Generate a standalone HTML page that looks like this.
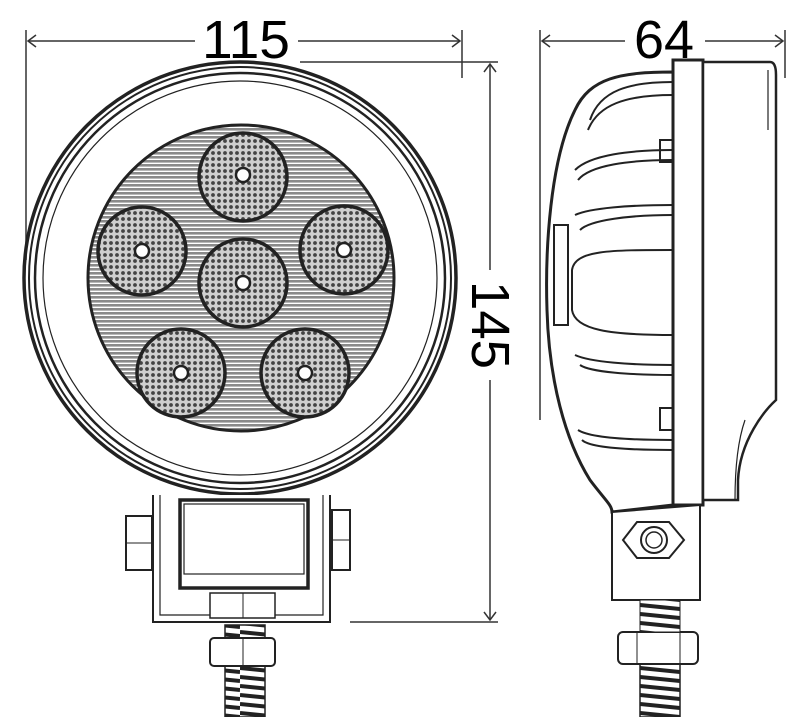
<!DOCTYPE html>
<html><head><meta charset="utf-8"><style>html,body{margin:0;padding:0;background:#fff}svg{display:block}</style></head>
<body>
<svg width="800" height="717" viewBox="0 0 800 717" xmlns="http://www.w3.org/2000/svg" font-family="Liberation Sans, sans-serif">
<defs>
<pattern id="stripes" width="6" height="4" patternUnits="userSpaceOnUse">
<rect width="6" height="4" fill="#fff"/><rect y="0" width="6" height="2.6" fill="#8a8a8a"/>
</pattern>
<pattern id="dots" width="6" height="6" patternUnits="userSpaceOnUse">
<rect width="6" height="6" fill="#cfcfcf"/><circle cx="3" cy="3" r="1.9" fill="#444"/>
</pattern>
<pattern id="thread" width="40" height="9" patternUnits="userSpaceOnUse">
<rect width="40" height="9" fill="#fff"/><path d="M0 2 L40 6" stroke="#222" stroke-width="4"/>
</pattern>
</defs>
<g fill="none" stroke="#333" stroke-width="1.5">
<line x1="26" y1="30" x2="26" y2="260"/><line x1="462" y1="30" x2="462" y2="78"/>
<line x1="28" y1="41" x2="195" y2="41"/><line x1="298" y1="41" x2="460" y2="41"/>
<path d="M36 35 L28 41 L36 47 M452 35 L460 41 L452 47"/>
<line x1="540" y1="30" x2="540" y2="420"/><line x1="785" y1="30" x2="785" y2="78"/>
<line x1="542" y1="41" x2="625" y2="41"/><line x1="705" y1="41" x2="783" y2="41"/>
<path d="M550 35 L542 41 L550 47 M775 35 L783 41 L775 47"/>
<line x1="300" y1="62" x2="498" y2="62"/><line x1="350" y1="622" x2="498" y2="622"/>
<line x1="490" y1="64" x2="490" y2="270"/><line x1="490" y1="380" x2="490" y2="620"/>
<path d="M484 72 L490 64 L496 72 M484 612 L490 620 L496 612"/>
</g>
<g font-size="54" fill="#000" text-anchor="middle">
<text x="246" y="58" textLength="88" lengthAdjust="spacingAndGlyphs">115</text>
<text x="664" y="58" textLength="60" lengthAdjust="spacingAndGlyphs">64</text>
<text transform="translate(472,325) rotate(90)" textLength="88" lengthAdjust="spacingAndGlyphs">145</text>
</g>
<g stroke="#222" fill="none">
<circle cx="240" cy="278" r="216" stroke-width="3.5"/>
<circle cx="240" cy="278" r="211" stroke-width="2"/>
<circle cx="240" cy="278" r="205" stroke-width="2.5"/>
<circle cx="240" cy="278" r="197" stroke-width="1.2"/>
<circle cx="241" cy="278" r="153" stroke-width="3" fill="url(#stripes)"/>
<g fill="url(#dots)" stroke-width="3.5">
<circle cx="243" cy="177" r="44"/><circle cx="142" cy="251" r="44"/><circle cx="344" cy="250" r="44"/>
<circle cx="243" cy="283" r="44"/><circle cx="181" cy="373" r="44"/><circle cx="305" cy="373" r="44"/>
</g>
<g fill="#fff" stroke-width="2.5">
<circle cx="243" cy="175" r="7"/><circle cx="142" cy="251" r="7"/><circle cx="344" cy="250" r="7"/>
<circle cx="243" cy="283" r="7"/><circle cx="181" cy="373" r="7"/><circle cx="305" cy="373" r="7"/>
</g>
<path d="M153 495 V622 H330 V495" stroke-width="2" fill="#fff"/>
<path d="M160 495 V615 H323 V495" stroke-width="1.2"/>
<rect x="180" y="500" width="128" height="88" stroke-width="3.5" fill="#fff"/>
<rect x="184" y="504" width="120" height="70" stroke-width="1.2"/>
<rect x="126" y="516" width="26" height="54" stroke-width="2" fill="#fff"/><line x1="126" y1="543" x2="152" y2="543"/>
<rect x="332" y="510" width="18" height="60" stroke-width="2" fill="#fff"/><line x1="332" y1="540" x2="350" y2="540"/>
<rect x="210" y="593" width="65" height="25" stroke-width="1.5" fill="#fff"/><line x1="243" y1="593" x2="243" y2="618"/>
<rect x="225" y="625" width="40" height="92" stroke-width="1.5" fill="url(#thread)"/>
<rect x="210" y="638" width="65" height="28" rx="4" stroke-width="2" fill="#fff"/><line x1="243" y1="638" x2="243" y2="666"/>
</g>
<g stroke="#222" fill="#fff">
<path d="M673 72 C620 72 590 78 575 110 C550 160 545 250 547 310 C549 380 565 440 590 480 C605 500 612 505 612 512 L673 505 Z" stroke-width="3"/>
<g fill="none" stroke-width="2">
<path d="M673 82 C630 82 600 90 590 120"/><path d="M673 95 C625 95 598 105 588 130"/>
<path d="M673 150 C630 150 590 155 575 170"/><path d="M673 160 C630 160 590 165 578 180"/>
<path d="M673 205 C630 205 590 208 575 215"/><path d="M673 215 C630 215 590 220 580 230"/>
<path d="M673 250 C610 250 575 250 572 270 V310 C575 330 610 335 673 335"/>
<path d="M673 365 C630 365 590 362 575 355"/><path d="M673 375 C630 375 590 372 580 365"/>
<path d="M673 440 C630 440 590 438 578 430"/><path d="M673 450 C630 450 590 448 582 440"/>
<rect x="660" y="140" width="13" height="22"/><rect x="660" y="408" width="13" height="22"/>
<rect x="554" y="225" width="14" height="100"/>
</g>
<rect x="673" y="60" width="30" height="445" stroke-width="3"/>
<path d="M703 62 H770 Q776 62 776 75 V400 C765 410 740 440 738 480 V500 H703 Z" stroke-width="2.5"/>
<path d="M768 70 V130 M745 420 C738 440 735 470 735 500" fill="none" stroke-width="1.2"/>
<path d="M612 512 L700 505 V600 H612 Z" stroke-width="2"/>
<path d="M623 540 L637 522 H669 L684 540 L669 558 H637 Z" stroke-width="2"/>
<circle cx="654" cy="540" r="13" stroke-width="2"/><circle cx="654" cy="540" r="8" stroke-width="1.5"/>
<rect x="640" y="662" width="40" height="55" fill="url(#thread)" stroke-width="1.5"/>
<rect x="618" y="632" width="80" height="32" rx="5" stroke-width="2"/>
<line x1="637" y1="632" x2="637" y2="664"/><line x1="680" y1="632" x2="680" y2="664"/>
<rect x="640" y="600" width="40" height="32" fill="url(#thread)" stroke-width="1"/>
</g>
</svg>
</body></html>
